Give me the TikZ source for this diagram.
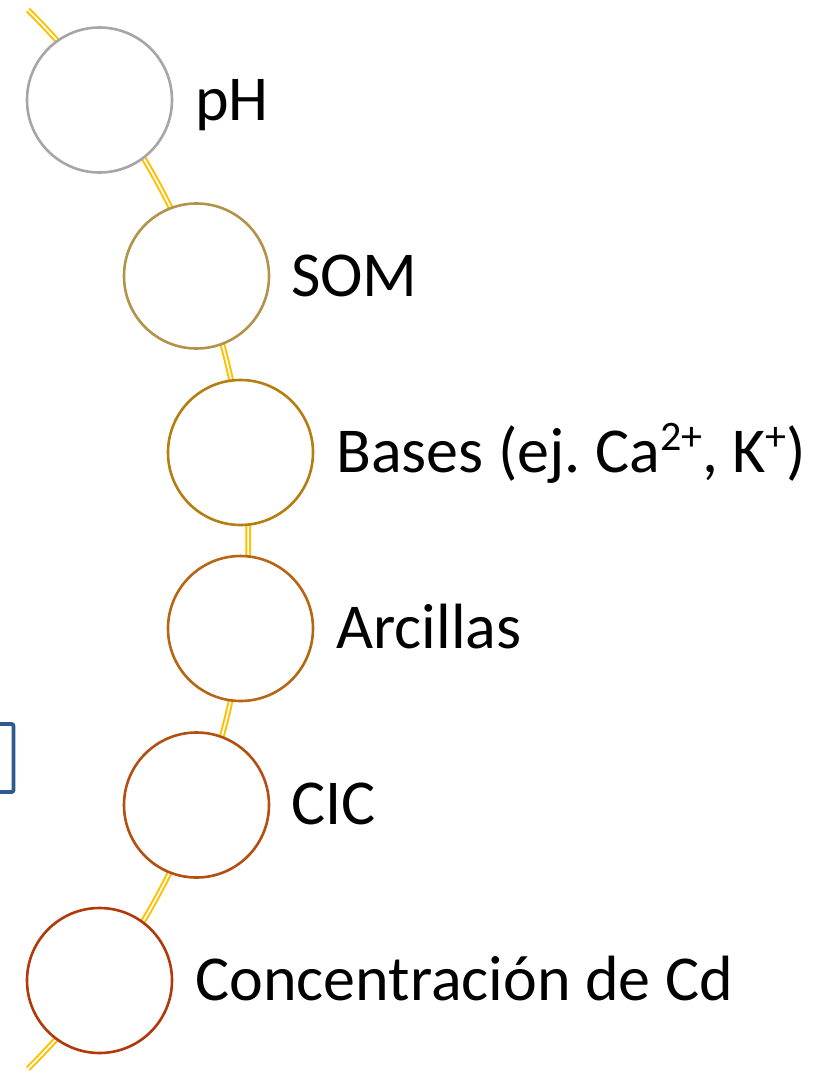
\documentclass[tikz,border=0pt]{standalone}
\usepackage{fontspec}
\setmainfont{Carlito}
\frenchspacing
\newcommand{\supr}[1]{\raisebox{0.33em}{\fontsize{42}{46}\selectfont #1}}
\begin{document}
\begin{tikzpicture}[x=1pt,y=-1pt,
  stage/.style={circle,draw=#1,line width=2.6pt,fill=white,minimum size=145pt,inner sep=0pt},
  lbl/.style={anchor=base west,inner sep=0pt,font=\fontsize{64}{68}\selectfont},
  chain/.style={draw=linkyellow,line width=2pt,double=white,double distance=1.7pt}]
\definecolor{linkyellow}{HTML}{FFC000}
\definecolor{cA}{HTML}{A6A6A6}
\definecolor{cB}{HTML}{B39249}
\definecolor{cC}{HTML}{B47F12}
\definecolor{cD}{HTML}{B66614}
\definecolor{cE}{HTML}{B34F12}
\definecolor{cF}{HTML}{B03A0C}
\definecolor{frameblue}{HTML}{2F5A8C}
\useasboundingbox (0,0) rectangle (831,1071);
\fill[white] (0,0) rectangle (831,1071);
% arc carrying the chain of stages
\coordinate (top) at (28,10);
\draw[chain] (top) arc[start angle=-45.2,end angle=45.2,radius=746];
% edge of a neighbouring frame
\draw[frameblue,line width=3.8pt,rounded corners=2pt] (-20,724) -- (13.5,724) -- (13.5,792) -- (-20,792);
% stages
\node[stage=cA] (ph) at (99.5,100) {};
\node[stage=cB] (som) at (196.5,276) {};
\node[stage=cC] (bas) at (240.5,452.5) {};
\node[stage=cD] (arc) at (240.5,628.5) {};
\node[stage=cE] (cic) at (196.5,805) {};
\node[stage=cF] (cd) at (99.5,980.5) {};
% labels
\node[lbl] (tph) at (195,120) {pH};
\node[lbl] (tsom) at (291,296) {SOM};
\node[lbl] (tbas) at (336,472) {Bases (ej. Ca\supr{2+}, K\supr{+})};
\node[lbl] (tarc) at (336,648) {Arcillas};
\node[lbl] (tcic) at (291,824) {CIC};
\node[lbl] (tcd) at (195,1000) {Concentración de Cd};
\end{tikzpicture}
\end{document}
